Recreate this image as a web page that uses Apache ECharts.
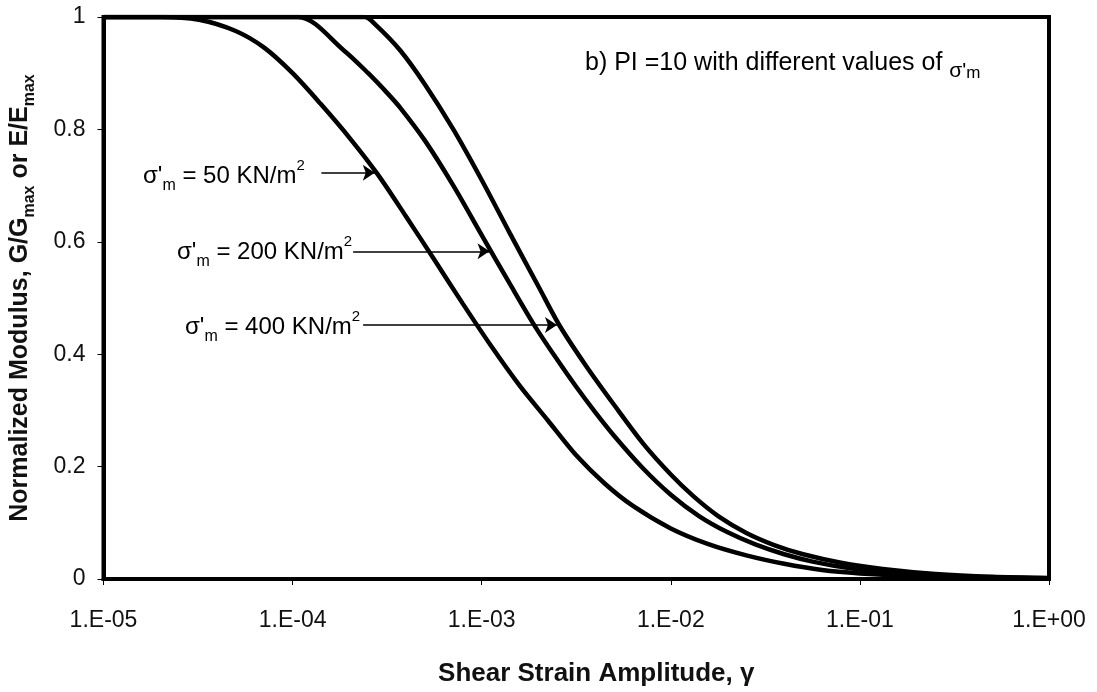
<!DOCTYPE html>
<html>
<head>
<meta charset="utf-8">
<script src="https://cdn.jsdelivr.net/npm/echarts@6/dist/echarts.min.js"></script>
<style>html,body{margin:0;padding:0;background:#fff;}#c{width:1097px;height:692px;}</style>
</head>
<body>
<div id="c"></div>
<script>
// ---- data ----
const strainTickLabels = ['1.E-05', '1.E-04', '1.E-03', '1.E-02', '1.E-01', '1.E+00'];

// sigma'm = 50 kN/m2
const strain50 = [1e-5, 2e-5, 3.2e-5, 5e-5, 7.1e-5, 1e-4, 1.41e-4, 2e-4, 2.82e-4, 3.98e-4, 5.62e-4, 7.94e-4, 1.12e-3, 1.58e-3, 2.24e-3, 3.16e-3, 4.47e-3, 6.31e-3, 1e-2, 1.58e-2, 2.51e-2, 3.98e-2, 6.31e-2, 0.1, 0.2, 0.4, 1];
const modulus50 = [1, 1, 0.995, 0.975, 0.945, 0.9, 0.845, 0.785, 0.72, 0.645, 0.568, 0.49, 0.415, 0.345, 0.282, 0.22, 0.17, 0.13, 0.09, 0.062, 0.042, 0.027, 0.016, 0.01, 0.005, 0.003, 0.001];

// sigma'm = 200 kN/m2
const strain200 = [1e-5, 1.07e-4, 1.86e-4, 2.51e-4, 3.16e-4, 3.72e-4, 5.01e-4, 7.08e-4, 1e-3, 1.41e-3, 1.91e-3, 2.51e-3, 3.16e-3, 3.98e-3, 5.01e-3, 7.08e-3, 1e-2, 1.41e-2, 2e-2, 2.82e-2, 3.98e-2, 5.62e-2, 8.91e-2, 0.158, 0.316, 1];
const modulus200 = [1, 1, 0.941, 0.9, 0.865, 0.838, 0.78, 0.7, 0.612, 0.525, 0.45, 0.39, 0.342, 0.297, 0.255, 0.198, 0.15, 0.112, 0.083, 0.061, 0.044, 0.031, 0.019, 0.01, 0.004, 0.001];

// sigma'm = 400 kN/m2
const strain400 = [1e-5, 2.4e-4, 2.75e-4, 3.72e-4, 5.01e-4, 7.08e-4, 1e-3, 1.41e-3, 2e-3, 2.57e-3, 3.55e-3, 5.01e-3, 7.18e-3, 1e-2, 1.32e-2, 1.78e-2, 2.51e-2, 3.55e-2, 5.01e-2, 7.94e-2, 0.132, 0.251, 0.501, 1];
const modulus400 = [1, 1, 0.986, 0.94, 0.88, 0.8, 0.71, 0.615, 0.52, 0.452, 0.38, 0.31, 0.24, 0.186, 0.147, 0.112, 0.082, 0.06, 0.044, 0.029, 0.018, 0.009, 0.004, 0.002];

// arrows: [startStrain, endStrain, modulus]
const arrow50 = [1.42e-4, 2.72e-4, 0.723];
const arrow200 = [2.09e-4, 1.1e-3, 0.583];
const arrow400 = [2.36e-4, 2.5e-3, 0.452];

const FONT = "'Liberation Sans', Arial, sans-serif";
const INK = '#111';

function pairs(xs, ys) { return xs.map((x, i) => [x, ys[i]]); }
function arrowLine(a) {
  return [{ coord: [a[0], a[2]] }, { coord: [a[1], a[2]] }];
}

const sigmaRich = {
  n: { fontFamily: FONT, fontSize: 24, color: INK, lineHeight: 36, verticalAlign: 'middle' },
  sub: { fontFamily: FONT, fontSize: 16, color: INK, verticalAlign: 'bottom' },
  sup: { fontFamily: FONT, fontSize: 15, color: INK, verticalAlign: 'top' }
};
function sigmaText(val) {
  return "{n|σ'}{sub|m}{n| = " + val + " KN/m}{sup|2}";
}

const chart = echarts.init(document.getElementById('c'), null, { renderer: 'canvas' });

const lineStyle = { color: '#000', width: 4.5 };

chart.setOption({
  animation: false,
  backgroundColor: '#fff',
  grid: { left: 102, right: 48, top: 17, bottom: 111, show: true, borderColor: '#000', borderWidth: 4, backgroundColor: 'transparent' },
  xAxis: {
    type: 'log', logBase: 10, min: 1e-5, max: 1,
    axisLine: { show: true, lineStyle: { color: '#000', width: 4 } },
    axisTick: { show: true, length: 6, lineStyle: { color: '#000', width: 1 } },
    minorTick: { show: false },
    splitLine: { show: false },
    axisLabel: {
      margin: 30, fontFamily: FONT, fontSize: 23, color: INK,
      formatter: function (v) { return strainTickLabels[Math.round(Math.log10(v)) + 5]; }
    },
    name: 'Shear Strain Amplitude, γ',
    nameLocation: 'middle', nameGap: 82,
    nameTextStyle: { fontFamily: FONT, fontSize: 26, fontWeight: 'bold', color: INK, padding: [0, 0, 0, 40] }
  },
  yAxis: {
    type: 'value', min: 0, max: 1, interval: 0.2,
    axisLine: { show: true, lineStyle: { color: '#000', width: 4 } },
    axisTick: { show: true, length: 6, lineStyle: { color: '#000', width: 1 } },
    splitLine: { show: false },
    axisLabel: { margin: 18, fontFamily: FONT, fontSize: 23, color: INK },
    name: '{n|Normalized Modulus, G/G}{sub|max}{n| or E/E}{sub|max}',
    nameLocation: 'middle', nameGap: 66,
    nameTextStyle: {
      fontFamily: FONT, fontSize: 25, fontWeight: 'bold', color: INK,
      rich: {
        n: { fontFamily: FONT, fontSize: 25, fontWeight: 'bold', color: INK, lineHeight: 34, verticalAlign: 'middle' },
        sub: { fontFamily: FONT, fontSize: 16, fontWeight: 'bold', color: INK, verticalAlign: 'bottom' }
      }
    }
  },
  series: [
    {
      name: '50', type: 'line', data: pairs(strain50, modulus50), showSymbol: false, smooth: 0.3,
      lineStyle: lineStyle, silent: true,
      markLine: {
        silent: true, symbol: ['none', 'arrow'], symbolSize: 12,
        lineStyle: { color: '#000', width: 1.5, type: 'solid' }, label: { show: false },
        data: [arrowLine(arrow50), arrowLine(arrow200), arrowLine(arrow400)]
      }
    },
    { name: '200', type: 'line', data: pairs(strain200, modulus200), showSymbol: false, smooth: 0.3, lineStyle: lineStyle, silent: true },
    { name: '400', type: 'line', data: pairs(strain400, modulus400), showSymbol: false, smooth: 0.3, lineStyle: lineStyle, silent: true }
  ],
  graphic: [
    {
      type: 'text', left: 585, top: 51, silent: true,
      style: {
        text: "{n|b) PI =10 with different values of }{s|σ'}{sub|m}",
        rich: {
          n: { fontFamily: FONT, fontSize: 25, color: INK, lineHeight: 36, verticalAlign: 'middle' },
          s: { fontFamily: FONT, fontSize: 21, color: INK, verticalAlign: 'bottom' },
          sub: { fontFamily: FONT, fontSize: 17, color: INK, verticalAlign: 'bottom' }
        }
      }
    },
    { type: 'text', left: 143, top: 158, silent: true, style: { text: sigmaText('50'), rich: sigmaRich } },
    { type: 'text', left: 177, top: 234, silent: true, style: { text: sigmaText('200'), rich: sigmaRich } },
    { type: 'text', left: 185, top: 309, silent: true, style: { text: sigmaText('400'), rich: sigmaRich } }
  ]
});
</script>
</body>
</html>
